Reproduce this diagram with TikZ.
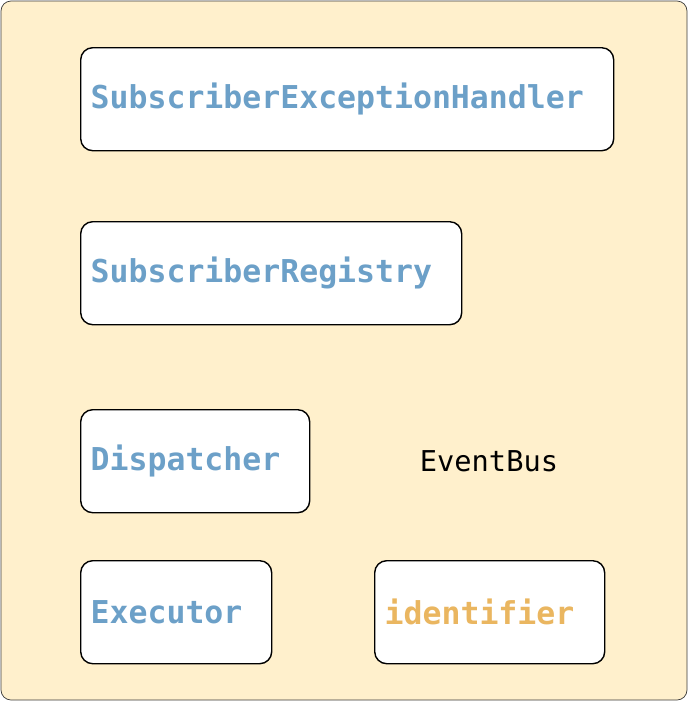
\documentclass[tikz,border=0pt]{standalone}
\usepackage{fontspec}
\usepackage{tikz}
\newfontfamily\codefont{DejaVu Sans Mono}
\definecolor{busfill}{HTML}{FFF0CC}
\definecolor{busrand}{HTML}{3A3A3A}
\definecolor{klasse}{HTML}{6CA0C8}
\definecolor{feld}{HTML}{EAB660}
\tikzset{
  bus/.style={draw=busrand,fill=busfill,rounded corners=10pt,line width=0.7pt},
  box/.style={draw=black,fill=white,rounded corners=12pt,line width=1.4pt,
    anchor=north west,minimum height=103pt,inner xsep=10pt,inner ysep=0pt,
    align=left,font=\codefont\bfseries\fontsize{31.5}{36}\selectfont},
  kls/.style={box,text=klasse},
  fld/.style={box,text=feld},
  titel/.style={font=\codefont\fontsize{28.7}{34}\selectfont,text=black,inner sep=0pt},
}
\begin{document}
\begin{tikzpicture}[x=1pt,y=-1pt]
  \useasboundingbox (0,0) rectangle (688,702);
  \draw[bus] (1,1) rectangle (687,700);
  \node[titel] (eventbus) at (489,461) {EventBus};
  \node[kls,text width=513pt] (handler) at (80,47) {SubscriberExceptionHandler};
  \node[kls,text width=361pt] (registry) at (80,221) {SubscriberRegistry};
  \node[kls,text width=209pt] (dispatcher) at (80,409) {Dispatcher};
  \node[kls,text width=171pt] (executor) at (80,560) {Executor};
  \node[fld,text width=210pt] (identifier) at (374,560) {identifier};
\end{tikzpicture}
\end{document}
